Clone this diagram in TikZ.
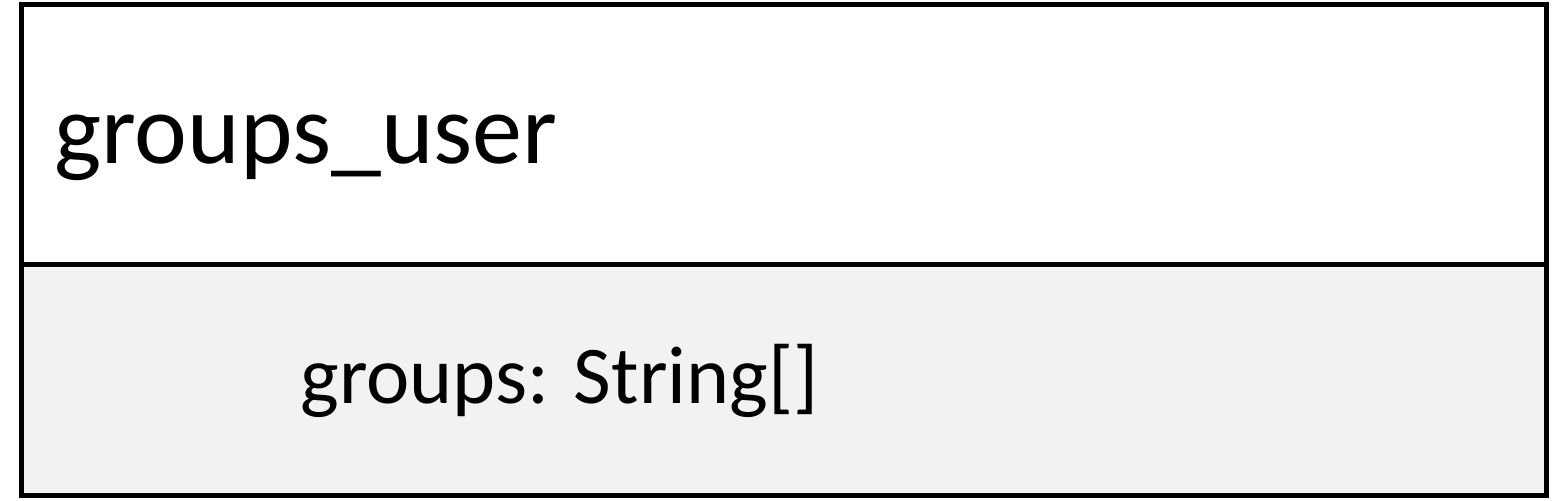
\documentclass[tikz,border=0pt]{standalone}
\usepackage{fontspec}
\setmainfont{Carlito}
\definecolor{attrgray}{HTML}{F2F2F2}
\tikzset{
  umlline/.style={draw=black, line width=2.5pt},
  headtext/.style={anchor=base west, inner sep=0pt, font=\fontsize{50}{60}\selectfont},
  attrtext/.style={anchor=base west, inner sep=0pt, font=\fontsize{41}{49}\selectfont}
}
\begin{document}
\begin{tikzpicture}[x=0.5pt,y=-0.5pt]
\useasboundingbox (0,0) rectangle (1556,500);
\fill[white] (0,0) rectangle (1556,500);
\fill[attrgray] (21,264.5) rectangle (1546,495.5);
\draw[umlline] (21,4.5) rectangle (1546,495.5);
\draw[umlline] (21,264.5) -- (1546,264.5);
\node[headtext] (title) at (54,163) {groups\_user};
\node[attrtext] (attr) at (300,403) {groups: String[]};
\end{tikzpicture}
\end{document}
